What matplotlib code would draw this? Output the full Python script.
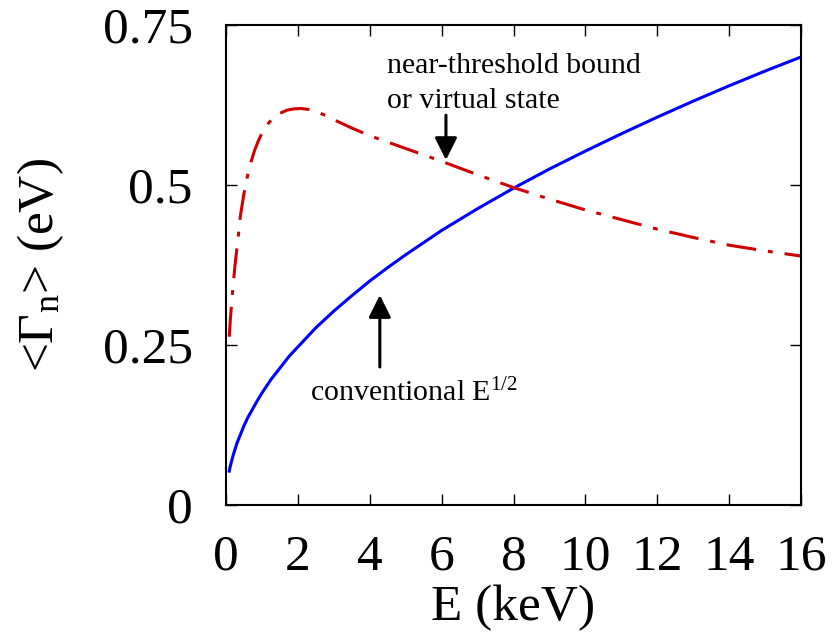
import matplotlib
matplotlib.use("Agg")
import matplotlib.pyplot as plt

plt.rcParams["font.family"] = ["Liberation Serif", "DejaVu Serif"]
plt.rcParams["mathtext.fontset"] = "custom"
plt.rcParams["mathtext.rm"] = "Liberation Serif"
plt.rcParams["mathtext.it"] = "Liberation Serif:italic"

# conventional E^1/2 width (blue, solid)
conv_E = [0.09, 0.12, 0.2, 0.3, 0.4, 0.5, 0.6, 0.7, 0.85, 1.0, 1.25, 1.5,
          1.75, 2.0, 2.5, 3.0, 3.5, 4.0, 4.5, 5.0, 6.0, 7.0, 8.0, 9.0, 10.0,
          11.0, 12.0, 13.0, 14.0, 15.0, 16.0]
conv_G = [0.053, 0.061, 0.078, 0.096, 0.110, 0.124, 0.136, 0.146, 0.161,
          0.175, 0.196, 0.214, 0.232, 0.247, 0.277, 0.303, 0.327, 0.350,
          0.371, 0.391, 0.429, 0.463, 0.495, 0.525, 0.553, 0.580, 0.606,
          0.631, 0.655, 0.678, 0.700]

# near-threshold bound / virtual state (red, dash-dot)
near_E = [0.09, 0.12, 0.16, 0.2, 0.25, 0.3, 0.35, 0.4, 0.5, 0.6, 0.7, 0.8,
          0.9, 1.0, 1.1, 1.2, 1.35, 1.5, 1.7, 1.9, 2.1, 2.3, 2.5, 2.75, 3.0,
          3.5, 4.0, 4.5, 5.0, 6.0, 7.0, 8.0, 9.0, 10.0, 11.0, 12.0, 13.0,
          14.0, 15.0, 16.0]
near_G = [0.263, 0.290, 0.318, 0.345, 0.375, 0.400, 0.425, 0.452, 0.487,
          0.515, 0.537, 0.555, 0.569, 0.581, 0.590, 0.598, 0.606, 0.612,
          0.617, 0.619, 0.6195, 0.618, 0.615, 0.609, 0.602, 0.589, 0.577,
          0.567, 0.557, 0.537, 0.516, 0.496, 0.478, 0.461, 0.446, 0.431,
          0.418, 0.406, 0.397, 0.389]

x_ticks = [0, 2, 4, 6, 8, 10, 12, 14, 16]
y_ticks = [0, 0.25, 0.5, 0.75]
y_tick_labels = ["0", "0.25", "0.5", "0.75"]

fig = plt.figure(figsize=(8.39, 6.39), dpi=100)
ax = fig.add_axes([0.2694, 0.2097, 0.6853, 0.7512])

ax.plot(conv_E, conv_G, color="#0000ff", linewidth=2.2)
ax.plot(near_E, near_G, color="#d00000", linewidth=2.2,
        linestyle=(0, (9.8, 3.9, 1.6, 3.9)))

ax.set_xlim(0, 16)
ax.set_ylim(0, 0.75)
ax.set_xticks(x_ticks)
ax.set_yticks(y_ticks)
ax.set_yticklabels(y_tick_labels)
ax.tick_params(direction="in", top=True, right=True, length=8, width=1,
               labelsize=37)
ax.tick_params(axis="x", pad=21)
ax.tick_params(axis="y", pad=24)
for sp in ax.spines.values():
    sp.set_linewidth(1.5)

ax.set_xlabel("E (keV)", fontsize=37, labelpad=3)
ax.set_ylabel("<Γ$_{\\mathrm{n}}$> (eV)", fontsize=37, labelpad=26)

ax.text(4.48, 0.675, "near-threshold bound", fontsize=21.5)
ax.text(4.48, 0.620, "or virtual state", fontsize=21.5)
ax.text(2.34, 0.1625, "conventional E$^{1/2}$", fontsize=21.5)

arrow = dict(arrowstyle="-|>", lw=2.2, color="black", mutation_scale=34,
             shrinkA=0, shrinkB=0)
ax.annotate("", xy=(6.12, 0.539), xytext=(6.12, 0.609), arrowprops=arrow)
ax.annotate("", xy=(4.28, 0.328), xytext=(4.28, 0.2156), arrowprops=arrow)

fig.savefig("out.png", dpi=100)
